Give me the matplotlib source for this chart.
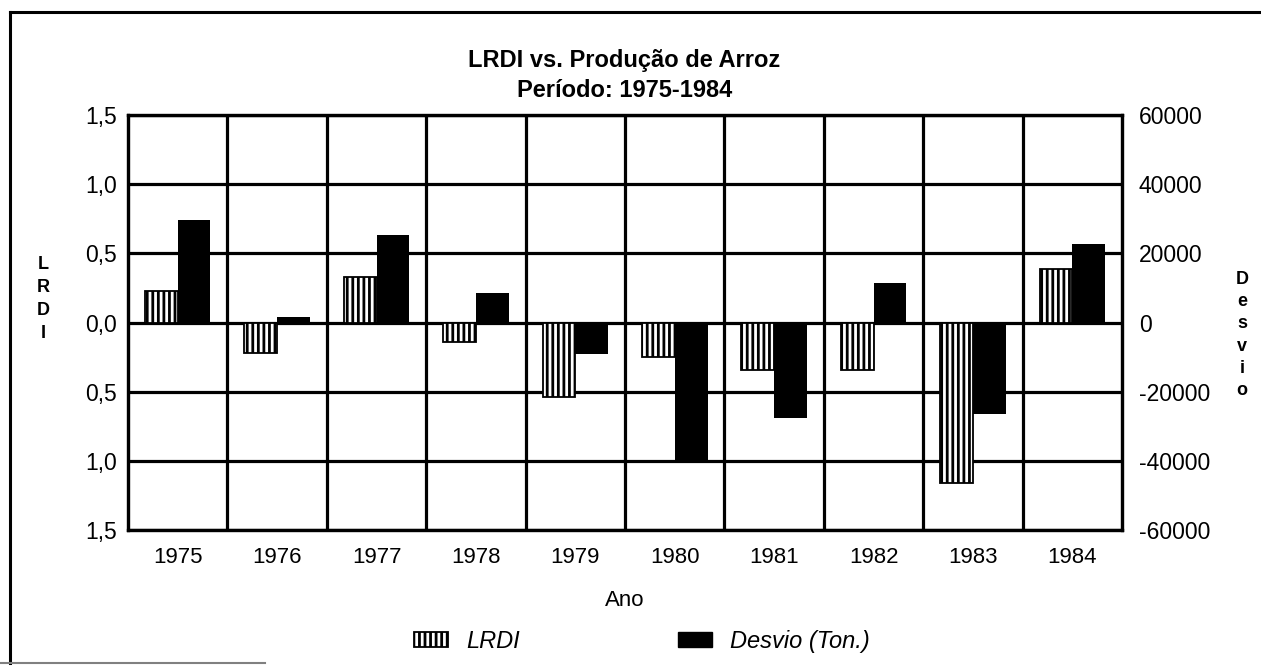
"""LRDI vs. Producao de Arroz, 1975-1984."""

import matplotlib
matplotlib.use("Agg")
import matplotlib.pyplot as plt
from matplotlib.patches import Patch
from matplotlib.lines import Line2D
from matplotlib.ticker import FixedLocator, FixedFormatter

anos = ["1975", "1976", "1977", "1978", "1979", "1980", "1981", "1982", "1983", "1984"]
lrdi = [0.23, -0.22, 0.33, -0.14, -0.54, -0.25, -0.34, -0.34, -1.16, 0.39]
desvio = [29500, 1500, 25400, 8500, -9200, -40500, -27500, 11500, -26500, 22800]

lrdi_ticks = [-1.5, -1.0, -0.5, 0.0, 0.5, 1.0, 1.5]
lrdi_labels = ["1,5", "1,0", "0,5", "0,0", "0,5", "1,0", "1,5"]
desvio_ticks = [-60000, -40000, -20000, 0, 20000, 40000, 60000]

matplotlib.rcParams["font.family"] = ["Liberation Sans", "DejaVu Sans"]
matplotlib.rcParams["hatch.linewidth"] = 2.0

fig = plt.figure(figsize=(12.61, 6.66), dpi=100)
ax = fig.add_axes([0.1015, 0.2042, 0.7883, 0.6231])
ax2 = ax.twinx()

x = list(range(len(anos)))
w = 0.33
ax.bar([i - w / 2 for i in x], lrdi, width=w, color="white", edgecolor="black",
       hatch="|||", linewidth=1.3, zorder=3)
ax2.bar([i + w / 2 for i in x], desvio, width=w, color="black", edgecolor="black",
        linewidth=0, zorder=3)

ax.set_xlim(-0.5, len(anos) - 0.5)
ax.set_ylim(-1.5, 1.5)
ax2.set_ylim(-60000, 60000)

ax.set_xticks(x)
ax.set_xticklabels(anos, fontsize=16)
ax.xaxis.set_minor_locator(FixedLocator([i + 0.5 for i in x[:-1]]))
ax.yaxis.set_major_locator(FixedLocator(lrdi_ticks))
ax.yaxis.set_major_formatter(FixedFormatter(lrdi_labels))
ax2.set_yticks(desvio_ticks)
ax2.set_yticklabels([str(v) for v in desvio_ticks], fontsize=16.5)
for t in ax.get_yticklabels():
    t.set_fontsize(16.5)

ax.tick_params(axis="both", which="both", length=0)
ax.tick_params(axis="x", pad=12)
ax.tick_params(axis="y", pad=8)
ax2.tick_params(axis="y", length=0, pad=12)

ax.set_axisbelow(True)
ax.grid(which="major", axis="y", color="black", linewidth=2.3)
ax.grid(which="minor", axis="x", color="black", linewidth=2.3)
for a in (ax, ax2):
    for s in a.spines.values():
        s.set_linewidth(2.3)

ax.set_xlabel("Ano", fontsize=16, labelpad=16)

fig.text(0.495, 0.887, "LRDI vs. Produção de Arroz\nPeríodo: 1975-1984", ha="center",
         va="center", fontsize=17, fontweight="bold", linespacing=1.38)
fig.text(0.034, 0.551, "L\nR\nD\nI", ha="center", va="center", fontsize=13,
         fontweight="bold", linespacing=1.45, multialignment="center")
fig.text(0.985, 0.497, "D\ne\ns\nv\ni\no", ha="center", va="center", fontsize=13,
         fontweight="bold", linespacing=1.4, multialignment="center")

handles = [Patch(facecolor="white", edgecolor="black", hatch="|||", linewidth=1.3),
           Patch(facecolor="black", edgecolor="black")]
fig.legend(handles, ["LRDI", "Desvio (Ton.)"], loc="center", ncol=2,
           bbox_to_anchor=(0.509, 0.037), frameon=False,
           prop={"size": 17, "style": "italic"}, handlelength=1.45,
           handleheight=0.6, handletextpad=0.76, columnspacing=6.7)

# moldura da figura escaneada
fig.add_artist(Line2D([0.008, 0.008], [0.005, 0.982], color="black", linewidth=2.2))
fig.add_artist(Line2D([0.008, 1.0], [0.982, 0.982], color="black", linewidth=2.2))
fig.add_artist(Line2D([0.0, 0.21], [0.004, 0.004], color="gray", linewidth=1.5))

fig.savefig("out.png", dpi=100)
